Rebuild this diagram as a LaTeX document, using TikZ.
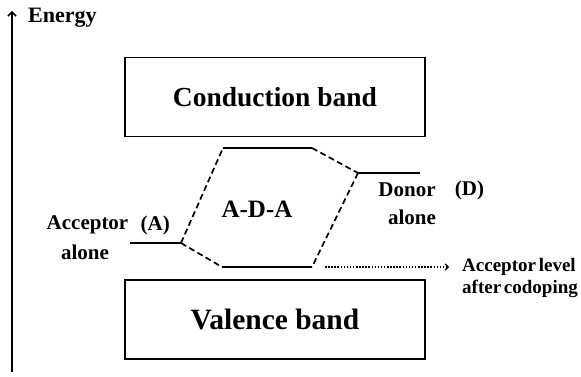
\documentclass[tikz,border=0pt]{standalone}
\usepackage{fontspec}
\setmainfont{Liberation Serif}
\usetikzlibrary{arrows.meta}
\tikzset{
  band/.style={draw, line width=1.9pt, minimum width=300pt, minimum height=79pt, inner sep=0pt},
  level/.style={line width=2.9pt},
  link/.style={line width=1.7pt, dash pattern=on 6pt off 3.5pt},
  lbl/.style={inner sep=0pt, font=\fontsize{21}{25}\selectfont\bfseries},
  smalllbl/.style={inner sep=0pt, font=\fontsize{19}{22}\selectfont\bfseries, align=left},
}
\begin{document}
\begin{tikzpicture}[x=1pt,y=-1pt]
\useasboundingbox (0,0) rectangle (581,377);
% axis
\coordinate (axB) at (12,372);
\coordinate (axT) at (12,11);
\draw[line width=1.9pt, -{Straight Barb[length=4pt,width=8pt,line width=1.5pt]}] (axB) -- (axT);
\node[inner sep=0pt, font=\fontsize{22}{25}\selectfont\bfseries, anchor=west] (energy) at (28,18) {Energy};
% bands
\node[band, font=\fontsize{27.5}{31}\selectfont\bfseries] (cb) at (275,97) {Conduction band};
\node[band, font=\fontsize{29.5}{33}\selectfont\bfseries] (vb) at (275,319.5) {Valence band};
% levels
\coordinate (acL) at (130,243);
\coordinate (acR) at (181,243);
\coordinate (upL) at (223,148);
\coordinate (upR) at (312,148);
\coordinate (doL) at (358,173);
\coordinate (doR) at (420,173);
\coordinate (loL) at (222,267);
\coordinate (loR) at (312,267);
\draw[level] (acL) -- (acR);
\draw[level] (upL) -- (upR);
\draw[level] (doL) -- (doR);
\draw[level] (loL) -- (loR);
\draw[link] (acR) -- (upL);
\draw[link] (acR) -- (loL);
\draw[link] (upR) -- (doL);
\draw[link] (doL) -- (loR);
% labels
\node[font=\fontsize{25}{28}\selectfont\bfseries, inner sep=0pt] (ada) at (257,209) {A-D-A};
\node[lbl] (accw) at (87.5,225) {Acceptor};
\node[lbl, anchor=west] (acca) at ([xshift=12pt]accw.east) {(A)};
\node[lbl] (acc2) at (85,252) {alone};
\node[lbl] (donw) at (407,190) {Donor};
\node[lbl, anchor=west] (dond) at ([xshift=19pt]donw.east) {(D)};
\node[lbl] (don2) at (412,217) {alone};
% dotted arrow
\coordinate (arS) at (325,267);
\node[smalllbl, anchor=north west] (after) at (462,258) {Acceptor\hspace{-2pt} level\\after\hspace{-2pt} codoping};
\coordinate (arE) at (449,267);
\draw[line width=1.5pt, dash pattern=on 1.5pt off 1.6pt, -{Straight Barb[length=3pt,width=6pt,line width=1.1pt]}] (arS) -- (arE);
\end{tikzpicture}
\end{document}
